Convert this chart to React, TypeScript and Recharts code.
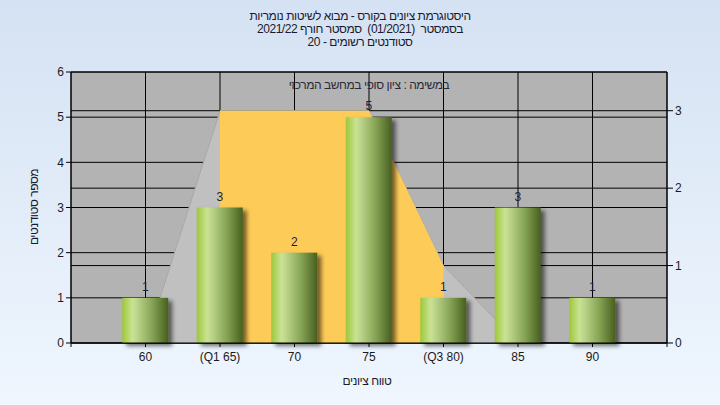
import { ComposedChart, Bar, Area, XAxis, YAxis, CartesianGrid, LabelList } from 'recharts';

const scores = [60, 65, 70, 75, 80, 85, 90];
const tickLabels = ['60', '(Q1 65)', '70', '75', '(Q3 80)', '85', '90'];
const counts = [1, 3, 2, 5, 1, 3, 1];
// curve on the right axis, the yellow part is the Q1..Q3 band
const curve = [0, 3, 3, 3, 1, 0, null];
const iqrBand = [null, 3, 3, 3, 1, null, null];
const leftTicks = [0, 1, 2, 3, 4, 5, 6];
const rightTicks = [0, 1, 2, 3];

const titleLines = [
  'היסטוגרמת ציונים בקורס - מבוא לשיטות נומריות',
  'בסמסטר  (01/2021)  סמסטר חורף 2021/22',
  'סטודנטים רשומים - 20',
];
const plotTitle = 'במשימה : ציון סופי במחשב המרכזי';
const xTitle = 'טווח ציונים';
const yTitle = 'מספר סטודנטים';

const data = scores.map((s, i) => ({
  score: s,
  count: counts[i],
  curve: curve[i],
  iqr: iqrBand[i],
}));

const font = '"Liberation Sans", Arial, sans-serif';
const tickStyle = { fontSize: 12, fill: '#1a1a1a', fontFamily: font };
const hebSpacing = '-0.45px';

const BarShape = (props: any) => {
  const { x, y, width, height } = props;
  if (!height || height <= 0) return null;
  return <rect x={x} y={y} width={width} height={height} fill="url(#barGrad)" filter="url(#barShadow)" />;
};

export default function App() {
  return (
    <div
      style={{
        position: 'absolute',
        left: 0,
        top: 0,
        width: 720,
        height: 405,
        background: 'linear-gradient(#d5e2f3, #eff6fe)',
        fontFamily: font,
      }}
    >
      <div
        dir="rtl"
        style={{
          position: 'absolute',
          top: 10,
          left: 0,
          width: 720,
          textAlign: 'center',
          fontSize: 12,
          lineHeight: '13px',
          color: '#1a1a2e',
          whiteSpace: 'pre',
          letterSpacing: hebSpacing,
        }}
      >
        {titleLines.map((t) => (
          <div key={t}>{t}</div>
        ))}
      </div>
      <ComposedChart
        width={720}
        height={405}
        data={data}
        margin={{ top: 72, right: 0, left: 0, bottom: 0 }}
        style={{ position: 'absolute', left: 0, top: 0 }}
      >
        <defs>
          <linearGradient id="barGrad" x1="0" y1="0" x2="1" y2="0">
            <stop offset="0%" stopColor="#9cc83a" />
            <stop offset="22%" stopColor="#c9e292" />
            <stop offset="32%" stopColor="#bcd58a" />
            <stop offset="65%" stopColor="#86a455" />
            <stop offset="100%" stopColor="#475f1e" />
          </linearGradient>
          <filter id="barShadow" x="-20%" y="-20%" width="160%" height="140%">
            <feDropShadow dx="4" dy="3" stdDeviation="2" floodColor="#000" floodOpacity="0.55" />
          </filter>
        </defs>
        <CartesianGrid
          yAxisId="left"
          stroke="#000"
          strokeOpacity={1}
          fill="#b3b3b3"
          fillOpacity={1}
        />
        <CartesianGrid yAxisId="right" vertical={false} stroke="#000" strokeOpacity={1} />
        <XAxis
          dataKey="score"
          type="number"
          domain={[55, 95]}
          ticks={[55, ...scores, 95]}
          tickFormatter={(v: number) => {
            const i = scores.indexOf(v);
            return i >= 0 ? tickLabels[i] : '';
          }}
          height={62}
          tickSize={4}
          tickMargin={5}
          tick={tickStyle}
          axisLine={{ stroke: '#000' }}
          tickLine={{ stroke: '#000' }}
          label={{
            content: () => (
              <text
                x={367}
                y={385}
                textAnchor="middle"
                fontSize={12}
                fill="#1a1a2e"
                fontFamily={font}
                letterSpacing={hebSpacing}
              >
                {xTitle}
              </text>
            ),
          }}
        />
        <YAxis
          yAxisId="left"
          domain={[0, 6]}
          ticks={leftTicks}
          width={71}
          tickSize={5}
          tick={tickStyle}
          axisLine={{ stroke: '#000' }}
          tickLine={{ stroke: '#000' }}
          label={{
            content: () => (
              <text
                x={38}
                y={207}
                transform="rotate(-90 38 207)"
                textAnchor="middle"
                fontSize={12}
                fill="#1a1a2e"
                fontFamily={font}
                letterSpacing={hebSpacing}
              >
                {yTitle}
              </text>
            ),
          }}
        />
        <YAxis
          yAxisId="right"
          orientation="right"
          domain={[0, 3.5]}
          ticks={rightTicks}
          width={53}
          tickSize={6}
          tick={tickStyle}
          axisLine={{ stroke: '#000' }}
          tickLine={{ stroke: '#000' }}
          label={{
            content: () => (
              <text
                x={369}
                y={89}
                textAnchor="middle"
                fontSize={12}
                fill="#2a2a3a"
                fontFamily={font}
                letterSpacing={hebSpacing}
              >
                {plotTitle}
              </text>
            ),
          }}
        />
        <Area
          yAxisId="right"
          type="linear"
          dataKey="curve"
          fill="#c0c0c0"
          fillOpacity={1}
          stroke="#a8a8a8"
          strokeWidth={1}
          isAnimationActive={false}
          dot={false}
          activeDot={false}
        />
        <Area
          yAxisId="right"
          type="linear"
          dataKey="iqr"
          fill="#fdcb57"
          fillOpacity={1}
          stroke="none"
          isAnimationActive={false}
          dot={false}
          activeDot={false}
        />
        <Bar yAxisId="left" dataKey="count" barSize={46} shape={BarShape} isAnimationActive={false}>
          <LabelList dataKey="count" position="top" offset={7} fontSize={12} fill="#1d1d3d" fontFamily={font} />
        </Bar>
      </ComposedChart>
    </div>
  );
}
